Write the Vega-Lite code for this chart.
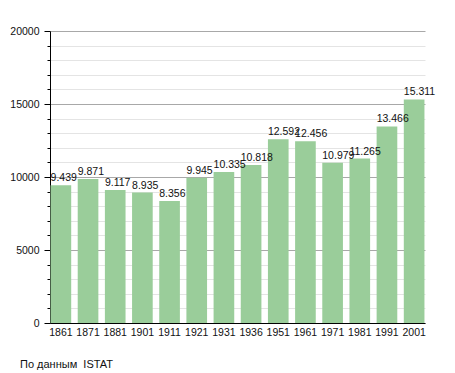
{
  "$schema": "https://vega.github.io/schema/vega-lite/v6.json",
  "autosize": "none",
  "width": 375,
  "height": 292,
  "padding": {"left": 50, "top": 31, "right": 30, "bottom": 50},
  "background": "white",
  "config": {
    "view": {"stroke": null},
    "font": "Liberation Sans",
    "axis": {"labelFont": "Liberation Sans", "labelColor": "#111", "labelFontSize": 10.5}
  },
  "title": {
    "text": "По данным\u00a0 ISTAT",
    "orient": "bottom",
    "anchor": "start",
    "frame": "group",
    "dx": -30,
    "offset": 21,
    "font": "Liberation Sans",
    "fontSize": 11,
    "fontWeight": "normal",
    "color": "#111"
  },
  "data": {
    "values": [
      {"year": "1861", "pop": 9439, "label": "9.439"},
      {"year": "1871", "pop": 9871, "label": "9.871"},
      {"year": "1881", "pop": 9117, "label": "9.117"},
      {"year": "1901", "pop": 8935, "label": "8.935"},
      {"year": "1911", "pop": 8356, "label": "8.356"},
      {"year": "1921", "pop": 9945, "label": "9.945"},
      {"year": "1931", "pop": 10335, "label": "10.335"},
      {"year": "1936", "pop": 10818, "label": "10.818"},
      {"year": "1951", "pop": 12592, "label": "12.592"},
      {"year": "1961", "pop": 12456, "label": "12.456"},
      {"year": "1971", "pop": 10979, "label": "10.979"},
      {"year": "1981", "pop": 11265, "label": "11.265"},
      {"year": "1991", "pop": 13466, "label": "13.466"},
      {"year": "2001", "pop": 15311, "label": "15.311"}
    ]
  },
  "encoding": {
    "x": {
      "field": "year",
      "type": "ordinal",
      "sort": null,
      "scale": {"paddingInner": 0.24, "paddingOuter": 0.02},
      "axis": {
        "title": null,
        "labelAngle": 0,
        "ticks": false,
        "domainColor": "#000",
        "domainWidth": 1,
        "labelPadding": 4,
        "grid": false
      }
    }
  },
  "layer": [
    {
      "mark": {"type": "bar", "color": "#9acd9a"},
      "encoding": {
        "y": {
          "field": "pop",
          "type": "quantitative",
          "scale": {"domain": [0, 20000], "nice": false},
          "axis": {
            "orient": "left",
            "title": null,
            "format": "d",
            "values": [0, 5000, 10000, 15000, 20000],
            "grid": true,
            "gridColor": "#a8a8a8",
            "gridWidth": 1,
            "tickSize": 6,
            "tickColor": "#000",
            "domainColor": "#000",
            "labelPadding": 5
          }
        }
      }
    },
    {
      "mark": {"type": "text", "align": "left", "baseline": "alphabetic", "dy": -4, "fontSize": 10.5, "color": "#111", "font": "Liberation Sans"},
      "encoding": {
        "x": {"field": "year", "type": "ordinal", "sort": null, "bandPosition": 0},
        "y": {
          "field": "pop",
          "type": "quantitative",
          "axis": {
            "orient": "left",
            "title": null,
            "values": [1000, 2000, 3000, 4000, 6000, 7000, 8000, 9000, 11000, 12000, 13000, 14000, 16000, 17000, 18000, 19000],
            "labels": false,
            "grid": true,
            "gridColor": "#e4e4e4",
            "gridWidth": 1,
            "tickSize": 3,
            "tickColor": "#000",
            "domain": false
          }
        },
        "text": {"field": "label"}
      }
    }
  ],
  "resolve": {"axis": {"y": "independent"}}
}
